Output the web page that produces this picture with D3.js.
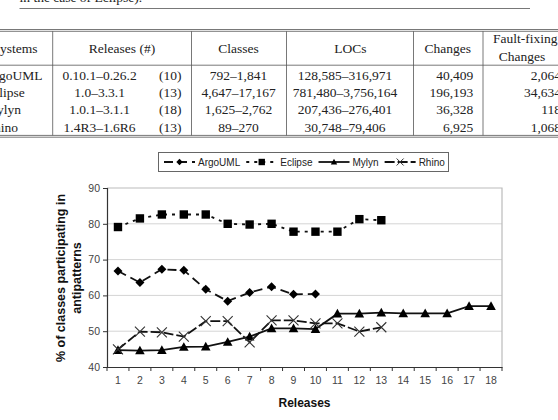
<!DOCTYPE html>
<html>
<head>
<meta charset="utf-8">
<script src="https://cdn.jsdelivr.net/npm/d3@7"></script>
<style>
  html, body { margin: 0; padding: 0; background: #fff; }
  svg { display: block; }
</style>
</head>
<body>
<script>
// table above the chart (cropped page of the paper)
var systems = ["ArgoUML", "Eclipse", "Mylyn", "Rhino"];
var releaseRanges = ["0.10.1–0.26.2", "1.0–3.3.1", "1.0.1–3.1.1", "1.4R3–1.6R6"];
var releaseCounts = ["(10)", "(13)", "(18)", "(13)"];
var classRanges = ["792–1,841", "4,647–17,167", "1,625–2,762", "89–270"];
var locRanges = ["128,585–316,971", "781,480–3,756,164", "207,436–276,401", "30,748–79,406"];
var changes = ["40,409", "196,193", "36,328", "6,925"];
var faultFixing = ["2,064", "34,634", "118", "1,068"];

// chart
var releases = ["1", "2", "3", "4", "5", "6", "7", "8", "9", "10", "11", "12", "13", "14", "15", "16", "17", "18"];
var yTicks = [40, 50, 60, 70, 80, 90];
var argoUML = [66.8, 63.6, 67.3, 67.0, 61.7, 58.4, 60.8, 62.4, 60.3, 60.4];
var eclipse = [79.1, 81.5, 82.6, 82.6, 82.6, 80.0, 79.8, 80.0, 77.8, 77.8, 77.8, 81.3, 81.0];
var mylyn = [44.7, 44.6, 44.7, 45.6, 45.7, 47.0, 48.5, 50.8, 50.8, 50.6, 54.9, 54.9, 55.2, 55.0, 55.0, 55.0, 57.0, 57.0];
var rhino = [44.9, 49.9, 49.7, 48.5, 52.8, 52.8, 46.9, 53.0, 53.0, 52.2, 52.2, 49.9, 51.1];

var svg = d3.select("body").append("svg")
	.attr("width", 558)
	.attr("height", 420);

// ---- table ----
var tbl = svg.append("g")
	.attr("font-family", "'Liberation Serif', 'Times New Roman', serif")
	.attr("font-size", 13.5)
	.attr("fill", "#222");

// caption, only its lower edge is inside the crop
tbl.append("text").attr("x", 19.5).attr("y", 1.5).text("in the case of Eclipse).");

var rules = tbl.append("g").attr("stroke", "#555").attr("stroke-width", 0.8);
rules.append("line").attr("x1", 19.5).attr("x2", 530).attr("y1", 8.5).attr("y2", 8.5);
[29.5, 31.3, 65.2, 135.4, 137.2].forEach(function(yy) {
	rules.append("line").attr("x1", 0).attr("x2", 558).attr("y1", yy).attr("y2", yy);
});
[52.7, 191.5, 286.5, 413.5, 483].forEach(function(xx) {
	rules.append("line").attr("x1", xx).attr("x2", xx).attr("y1", 31.3).attr("y2", 135.4);
});

var head = [
	{t: "Systems", x: -7.5, a: "start"},
	{t: "Releases (#)", x: 122, a: "middle"},
	{t: "Classes", x: 238.5, a: "middle"},
	{t: "LOCs", x: 350.5, a: "middle"},
	{t: "Changes", x: 447.7, a: "middle"}
];
head.forEach(function(h) {
	tbl.append("text").attr("x", h.x).attr("y", 52.7).attr("text-anchor", h.a).text(h.t);
});
tbl.append("text").attr("x", 493).attr("y", 42.7).text("Fault-fixing");
tbl.append("text").attr("x", 522).attr("y", 60.5).attr("text-anchor", "middle").text("Changes");

var rowY = d3.scaleLinear().domain([0, 3]).range([80, 131.6]);
systems.forEach(function(s, i) {
	var yy = rowY(i);
	tbl.append("text").attr("x", -15).attr("y", yy).text(s);
	tbl.append("text").attr("x", 99.6).attr("y", yy).attr("text-anchor", "middle").text(releaseRanges[i]);
	tbl.append("text").attr("x", 181.5).attr("y", yy).attr("text-anchor", "end").text(releaseCounts[i]);
	tbl.append("text").attr("x", 238.5).attr("y", yy).attr("text-anchor", "middle").text(classRanges[i]);
	tbl.append("text").attr("x", 345).attr("y", yy).attr("text-anchor", "middle").text(locRanges[i]);
	tbl.append("text").attr("x", 473.3).attr("y", yy).attr("text-anchor", "end").text(changes[i]);
	tbl.append("text").attr("x", 561).attr("y", yy).attr("text-anchor", "end").text(faultFixing[i]);
});

// ---- chart ----
var plotLeft = 107, plotRight = 502, plotTop = 188, plotBottom = 367;

var x = d3.scaleBand().domain(releases).range([plotLeft, plotRight]).padding(0);
var bw = x.bandwidth();
var y = d3.scaleLinear().domain([40, 90]).range([plotBottom, plotTop]);

var chart = svg.append("g").attr("font-family", "Arial, 'Liberation Sans', sans-serif");

// grid lines and plot border
chart.append("g").selectAll("line")
	.data(yTicks.slice(1, -1))
	.enter().append("line")
		.attr("x1", plotLeft).attr("x2", plotRight)
		.attr("y1", function(d) { return y(d); })
		.attr("y2", function(d) { return y(d); })
		.attr("stroke", "#d4d4d4").attr("stroke-width", 1);

chart.append("path")
	.attr("d", "M" + plotLeft + "," + y(90) + "H" + plotRight + "V" + plotBottom)
	.attr("fill", "none").attr("stroke", "#bbb").attr("stroke-width", 1.2);

// y axis
var yAxis = chart.append("g")
	.attr("transform", "translate(" + plotLeft + ",0)")
	.call(d3.axisLeft(y).tickValues(yTicks).tickSize(4).tickPadding(3));
yAxis.select(".domain").attr("stroke", "#333").attr("stroke-width", 1.2);
yAxis.selectAll(".tick line").attr("stroke", "#333");
yAxis.selectAll("text").attr("font-size", 10.5).attr("fill", "#444").attr("font-family", null);

// x axis: labels at band centres, ticks between categories
var xAxis = chart.append("g")
	.attr("transform", "translate(0," + plotBottom + ")")
	.call(d3.axisBottom(x).tickSize(0).tickPadding(10).tickSizeOuter(0));
xAxis.select(".domain").attr("stroke", "#333").attr("stroke-width", 1.2);
xAxis.selectAll("text").attr("font-size", 10.5).attr("fill", "#444").attr("font-family", null);

xAxis.selectAll(".sep")
	.data(releases.concat(["end"]))
	.enter().append("line")
		.attr("class", "sep")
		.attr("x1", function(d) { return d === "end" ? plotRight : x(d); })
		.attr("x2", function(d) { return d === "end" ? plotRight : x(d); })
		.attr("y1", 0).attr("y2", 4)
		.attr("stroke", "#333");

// axis titles
chart.append("text")
	.attr("x", (plotLeft + plotRight) / 2).attr("y", 407)
	.attr("text-anchor", "middle")
	.attr("font-size", 12).attr("font-weight", "bold").attr("fill", "#111")
	.text("Releases");

[["% of classes participating in", 61], ["antipatterns", 76.7]].forEach(function(l) {
	chart.append("text")
		.attr("transform", "translate(" + l[1] + "," + ((plotTop + plotBottom) / 2 + 0.5) + ") rotate(-90)")
		.attr("text-anchor", "middle").attr("dy", "0.35em")
		.attr("font-size", 12.5).attr("font-weight", "bold").attr("fill", "#111")
		.text(l[0]);
});

// markers
function marker(kind, r) {
	if (kind === "diamond") return "M0," + -r + "L" + r + ",0L0," + r + "L" + -r + ",0Z";
	if (kind === "square") return "M" + -r + "," + -r + "H" + r + "V" + r + "H" + -r + "Z";
	if (kind === "triangle") return "M0," + -r + "L" + r + "," + (r * 0.8) + "H" + -r + "Z";
	return "M" + -r + "," + -r + "L" + r + "," + r + "M" + -r + "," + r + "L" + r + "," + -r;
}

var series = [
	{name: "ArgoUML", values: argoUML, dash: "9,5", kind: "diamond", r: 4.5},
	{name: "Eclipse", values: eclipse, dash: "3,5", kind: "square", r: 4.2},
	{name: "Mylyn", values: mylyn, dash: null, kind: "triangle", r: 4.8},
	{name: "Rhino", values: rhino, dash: "10,3", kind: "cross", r: 5}
];

var line = d3.line()
	.x(function(d, i) { return x(releases[i]) + bw / 2; })
	.y(function(d) { return y(d); });

series.forEach(function(s) {
	var g = chart.append("g");
	g.append("path")
		.attr("d", line(s.values))
		.attr("fill", "none")
		.attr("stroke", "#111")
		.attr("stroke-width", 1.8)
		.attr("stroke-dasharray", s.dash);

	g.selectAll(".pt")
		.data(s.values)
		.enter().append("path")
			.attr("class", "pt")
			.attr("transform", function(d, i) {
				return "translate(" + (x(releases[i]) + bw / 2) + "," + y(d) + ")";
			})
			.attr("d", marker(s.kind, s.r))
			.attr("fill", s.kind === "cross" ? "none" : "#000")
			.attr("stroke", s.kind === "cross" ? "#333" : "none")
			.attr("stroke-width", 1.1);
});

// legend
var legend = chart.append("g");
legend.append("rect")
	.attr("x", 158.5).attr("y", 152.5).attr("width", 290).attr("height", 19)
	.attr("fill", "#fff").attr("stroke", "#666").attr("stroke-width", 1);

var lx = 164, ly = 162;
series.forEach(function(s) {
	legend.append("line")
		.attr("x1", lx).attr("x2", lx + 31).attr("y1", ly).attr("y2", ly)
		.attr("stroke", "#111").attr("stroke-width", 1.8)
		.attr("stroke-dasharray", s.dash);
	legend.append("path")
		.attr("transform", "translate(" + (lx + 15.5) + "," + ly + ")")
		.attr("d", marker(s.kind, s.kind === "cross" ? 3.5 : 3.2))
		.attr("fill", s.kind === "cross" ? "none" : "#000")
		.attr("stroke", s.kind === "cross" ? "#333" : "none");
	var t = legend.append("text")
		.attr("x", lx + 34).attr("y", ly).attr("dy", "0.35em")
		.attr("font-size", 10).attr("fill", "#222")
		.text(s.name);
	lx += 34 + t.node().getComputedTextLength() + 6;
});
</script>
</body>
</html>
